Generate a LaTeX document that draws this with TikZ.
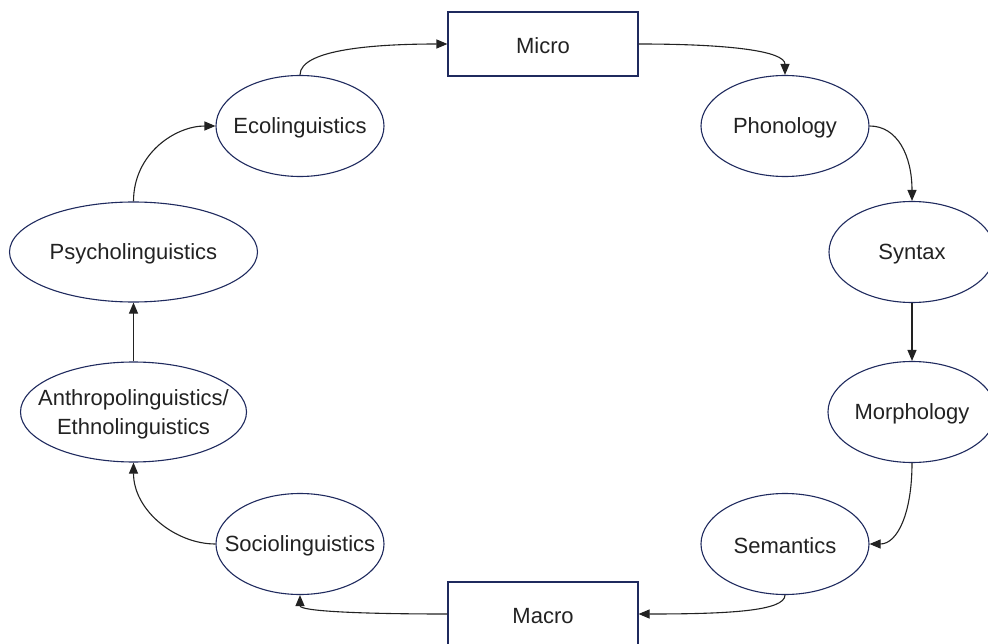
\documentclass[tikz,border=0pt]{standalone}
\usepackage{fontspec}
\setmainfont{Liberation Sans}
\usetikzlibrary{shapes.geometric,arrows.meta}
\definecolor{navy}{HTML}{1F2A5E}
\definecolor{ink}{HTML}{222222}
\tikzset{
  bubble/.style={ellipse, draw=navy, line width=1.1bp, inner sep=0pt},
  label text/.style={text=ink, align=center, inner sep=0pt, yshift=-2bp,
    font=\fontsize{22bp}{29bp}\selectfont},
  boxnode/.style={rectangle, draw=navy, line width=1.1bp, inner sep=0pt,
    minimum width=190bp, minimum height=64bp},
  conn/.style={draw=ink, line width=1.1bp, -{Triangle[length=11bp,width=9bp]}}
}
\begin{document}
\begin{tikzpicture}[x=1bp,y=-1bp]
\useasboundingbox (0,0) rectangle (988,644);
\node[boxnode] (micro) at (543,44) {};
\node[boxnode] (macro) at (543,614) {};
\node[bubble, minimum width=168bp, minimum height=101bp] (eco) at (300,126) {};
\node[bubble, minimum width=168bp, minimum height=101bp] (phon) at (785,126) {};
\node[bubble, minimum width=166bp, minimum height=101bp] (syn) at (912,252) {};
\node[bubble, minimum width=168bp, minimum height=101bp] (morph) at (912,412) {};
\node[bubble, minimum width=168bp, minimum height=101bp] (sem) at (785,544) {};
\node[bubble, minimum width=168bp, minimum height=101bp] (socio) at (300,544) {};
\node[bubble, minimum width=226bp, minimum height=100bp] (anthro) at (133.5,412) {};
\node[bubble, minimum width=248bp, minimum height=100bp] (psycho) at (133.5,252) {};

\node[label text] (microt) at (micro) {Micro};
\node[label text] (macrot) at (macro) {Macro};
\node[label text] (ecot) at (eco) {Ecolinguistics};
\node[label text] (phont) at (phon) {Phonology};
\node[label text] (synt) at (syn) {Syntax};
\node[label text] (morpht) at (morph) {Morphology};
\node[label text] (semt) at (sem) {Semantics};
\node[label text] (sociot) at (socio) {Sociolinguistics};
\node[label text] (anthrot) at (anthro) {Anthropolinguistics/\\Ethnolinguistics};
\node[label text] (psychot) at (psycho) {Psycholinguistics};

\draw[conn] (eco.north) to[out=90,in=180,out distance=26bp,in distance=70bp] (micro.west);
\draw[conn] (micro.east) to[out=0,in=90,out distance=90bp,in distance=24bp] (phon.north);
\draw[conn] (phon.east) to[out=0,in=90,out distance=28bp,in distance=45bp] (syn.north);
\draw[conn] (syn.south) -- (morph.north);
\draw[conn] (morph.south) to[out=-90,in=0,out distance=50bp,in distance=28bp] (sem.east);
\draw[conn] (sem.south) to[out=-90,in=0,out distance=16bp,in distance=90bp] (macro.east);
\draw[conn] (macro.west) to[out=180,in=-90,out distance=90bp,in distance=16bp] (socio.south);
\draw[conn] (socio.west) to[out=180,in=-90,out distance=40bp,in distance=48bp] (anthro.south);
\draw[conn] (anthro.north) -- (psycho.south);
\draw[conn] (psycho.north) to[out=90,in=180,out distance=48bp,in distance=40bp] (eco.west);
\end{tikzpicture}
\end{document}
